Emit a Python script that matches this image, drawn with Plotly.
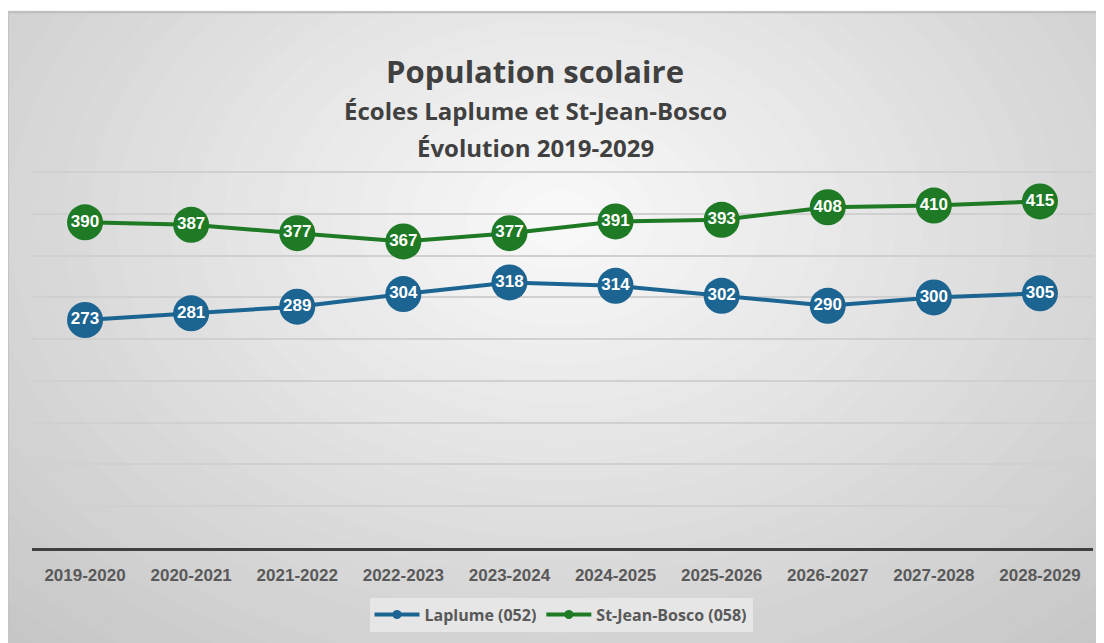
import plotly.graph_objects as go

years = ["2019-2020", "2020-2021", "2021-2022", "2022-2023", "2023-2024",
         "2024-2025", "2025-2026", "2026-2027", "2027-2028", "2028-2029"]
laplume = [273, 281, 289, 304, 318, 314, 302, 290, 300, 305]
stjean = [390, 387, 377, 367, 377, 391, 393, 408, 410, 415]

BLUE = "#1c6491"
GREEN = "#1e7a25"

OFF = 8  # page body margin
W, H = 1104 - OFF, 643 - OFF
ML, MR, MT, MB = 32 - OFF, 11, 160, 93
PW = W - ML - MR
PH = H - MT - MB


def px(x):  # page pixel -> paper
    return (x - OFF - ML) / PW


def py(y):
    return (H - MB - (y - OFF)) / PH


fig = go.Figure()

for name, vals, col in [("Laplume (052)", laplume, BLUE), ("St-Jean-Bosco (058)", stjean, GREEN)]:
    fig.add_trace(go.Scatter(
        x=years, y=vals, name=name, showlegend=False,
        mode="lines+markers+text",
        line=dict(color=col, width=4),
        marker=dict(color=col, size=36, line=dict(width=0)),
        text=[str(v) for v in vals], textposition="middle center",
        textfont=dict(color="white", size=17, family="Liberation Sans", weight="bold"),
    ))
for name, col in [("Laplume (052)", BLUE), ("St-Jean-Bosco (058)", GREEN)]:
    fig.add_trace(go.Scatter(
        x=[None], y=[None], name=name, mode="lines+markers",
        line=dict(color=col, width=4), marker=dict(color=col, size=9),
    ))

shapes = [dict(type="rect", xref="paper", yref="paper",
               x0=px(8), x1=px(1110), y0=py(650), y1=py(11),
               fillcolor="#c6c6c6", line=dict(width=0), layer="below")]
cx, cy = 560, 220
n = 30
for i in range(n):
    t = i / (n - 1)
    rx = 780 * (1 - t) + 40
    ry = 560 * (1 - t) + 30
    c = int(198 + (248 - 198) * t)
    shapes.append(dict(type="circle", xref="paper", yref="paper",
                       x0=px(cx - rx), x1=px(cx + rx), y0=py(cy + ry), y1=py(cy - ry),
                       fillcolor=f"rgb({c},{c},{c})", line=dict(width=0), layer="below"))
shapes.append(dict(type="rect", xref="paper", yref="paper",
                   x0=px(0), x1=px(1110), y0=py(10), y1=py(0),
                   fillcolor="white", line=dict(width=0), layer="below"))
shapes.append(dict(type="line", xref="paper", yref="paper",
                   x0=px(8), x1=px(1110), y0=py(11.5), y1=py(11.5),
                   line=dict(color="#bdbdbd", width=2), layer="below"))
shapes.append(dict(type="line", xref="paper", yref="paper",
                   x0=px(8.5), x1=px(8.5), y0=py(11), y1=py(650),
                   line=dict(color="#c4c4c4", width=1), layer="below"))

TITLE_FONT = "Open Sans"
annotations = [
    dict(text="<b>Population scolaire</b>", x=px(535), y=py(70), xref="paper", yref="paper",
         xanchor="center", yanchor="middle",
         showarrow=False, font=dict(family=TITLE_FONT, size=31, color="#404040")),
    dict(text="<b>Écoles Laplume et St-Jean-Bosco</b>", x=px(535), y=py(110), xref="paper", yref="paper",
         xanchor="center", yanchor="middle",
         showarrow=False, font=dict(family=TITLE_FONT, size=24, color="#404040")),
    dict(text="<b>Évolution 2019-2029</b>", x=px(535), y=py(147), xref="paper", yref="paper",
         xanchor="center", yanchor="middle",
         showarrow=False, font=dict(family=TITLE_FONT, size=24, color="#404040")),
]

fig.update_layout(
    width=W, height=H,
    margin=dict(l=ML, r=MR, t=MT, b=MB),
    paper_bgcolor="white", plot_bgcolor="rgba(0,0,0,0)",
    shapes=shapes, annotations=annotations,
    showlegend=True,
    legend=dict(orientation="h", x=px(561), xanchor="center", y=py(617), yanchor="middle",
                bgcolor="#e6e6e6", borderwidth=0,
                font=dict(family=TITLE_FONT, size=16, color="#595959", weight="bold"),
                itemwidth=45, tracegroupgap=0),
    xaxis=dict(type="category", range=[-0.5, 9.5], showgrid=False,
               showline=True, linecolor="#404040", linewidth=3,
               ticks="", tickfont=dict(family="Liberation Sans", size=17, color="#595959", weight="bold"),
               ticklabelstandoff=10, fixedrange=True),
    yaxis=dict(range=[0, 455], tick0=0, dtick=50, showgrid=True, gridcolor="#d0d0d0", gridwidth=1.5,
               showticklabels=False, zeroline=False, showline=False, fixedrange=True),
)

fig.write_html("out.html")
